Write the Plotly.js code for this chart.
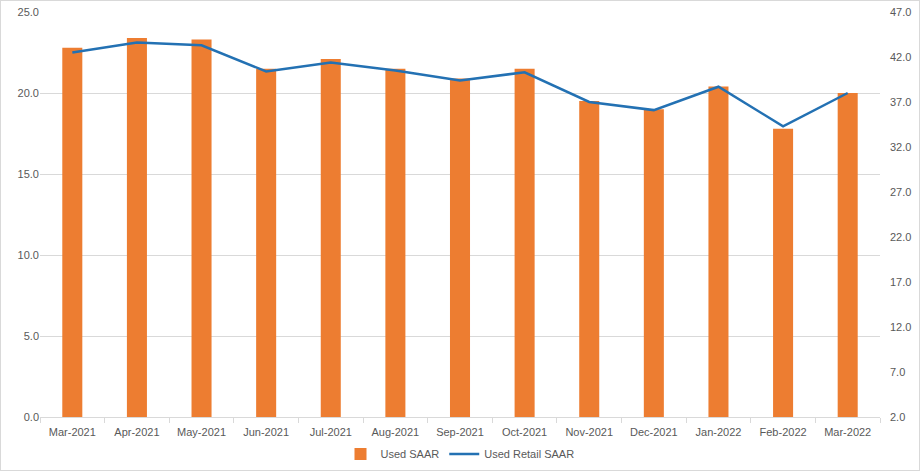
<!DOCTYPE html>
<html>
<head>
<meta charset="utf-8">
<script src="https://cdn.plot.ly/plotly-3.0.1.min.js"></script>
<style>
html,body{margin:0;padding:0;background:#fff;}
#chart{width:918px;height:469px;border:1px solid #d9d9d9;}
</style>
</head>
<body>
<div id="chart"></div>
<script>
const months = ["Mar-2021","Apr-2021","May-2021","Jun-2021","Jul-2021","Aug-2021","Sep-2021","Oct-2021","Nov-2021","Dec-2021","Jan-2022","Feb-2022","Mar-2022"];
const usedSAAR = [22.8,23.4,23.3,21.5,22.1,21.5,20.9,21.5,19.5,19.0,20.4,17.8,20.0];
const usedRetailSAAR = [42.5,43.6,43.3,40.4,41.4,40.5,39.4,40.3,37.0,36.1,38.7,34.3,38.0];

const traces = [
  {type:"bar", x:months, y:usedSAAR, name:"Used SAAR", marker:{color:"#ED7D31"}, yaxis:"y"},
  {type:"scatter", mode:"lines", x:months, y:usedRetailSAAR, name:"Used Retail SAAR", line:{color:"#2371B3", width:2.5}, yaxis:"y2"}
];
const tickfont = {family:"Liberation Sans, Arial, sans-serif", size:11, color:"#595959"};
const layout = {
  width:918, height:469,
  margin:{l:39, r:39, t:11, b:53, autoexpand:false},
  paper_bgcolor:"#fff", plot_bgcolor:"#fff",
  bargap:0.69,
  showlegend:true,
  legend:{orientation:"h", x:0.5, xanchor:"center", xref:"container", y:0.034, yref:"container", yanchor:"middle", font:tickfont, traceorder:"normal", itemwidth:30, tracegroupgap:0},
  xaxis:{type:"category", tickfont:tickfont, showgrid:false, showline:true, linecolor:"#d9d9d9", ticks:"outside", tickson:"boundaries", ticklen:5, tickcolor:"#d9d9d9", ticklabelstandoff:5},
  yaxis:{range:[0,25], dtick:5, tickformat:".1f", tickfont:tickfont, gridcolor:"#d9d9d9", zeroline:false, showline:false, fixedrange:true},
  yaxis2:{range:[2,47], dtick:5, tick0:2, tickformat:".1f", tickfont:tickfont, overlaying:"y", side:"right", showgrid:false, zeroline:false, showline:false, ticklabelstandoff:9}
};
Plotly.newPlot("chart", traces, layout, {displayModeBar:false, staticPlot:true});
</script>
</body>
</html>
